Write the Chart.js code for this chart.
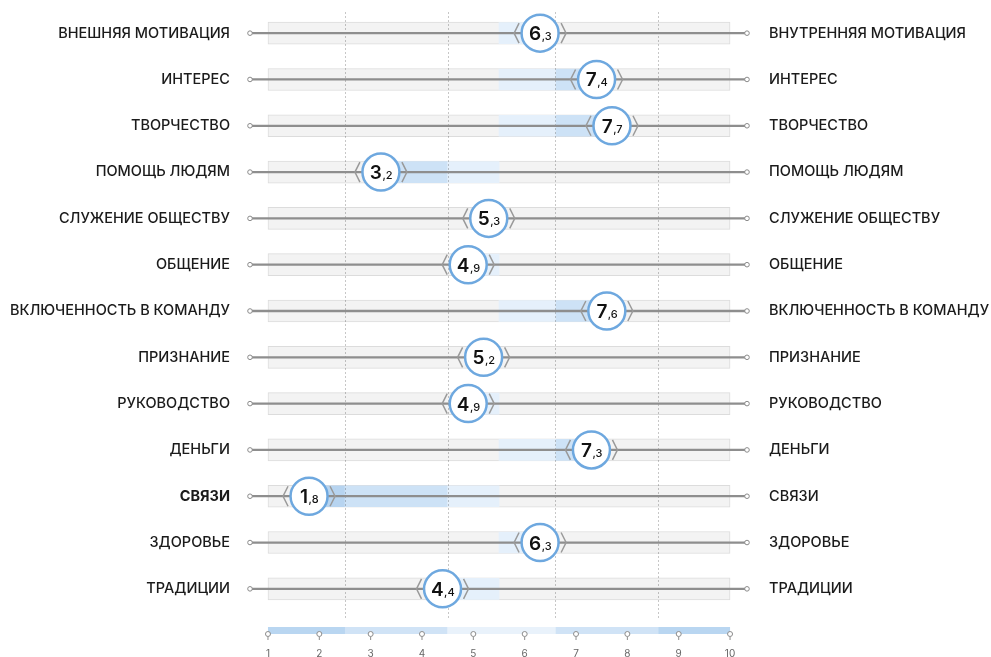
<!DOCTYPE html>
<html lang="ru">
<head>
<meta charset="utf-8">
<title>Мотивация</title>
<script src="https://cdn.jsdelivr.net/npm/chart.js@4.4.1/dist/chart.umd.min.js"></script>
<style>
  html, body { margin: 0; padding: 0; background: #fff; }
  #wrap { width: 991px; height: 657px; position: relative; }
</style>
</head>
<body>
<div id="wrap"><canvas id="motivC"></canvas></div>
<script>
const leftLabels = ['ВНЕШНЯЯ МОТИВАЦИЯ', 'ИНТЕРЕС', 'ТВОРЧЕСТВО', 'ПОМОЩЬ ЛЮДЯМ', 'СЛУЖЕНИЕ ОБЩЕСТВУ', 'ОБЩЕНИЕ',
    'ВКЛЮЧЕННОСТЬ В КОМАНДУ', 'ПРИЗНАНИЕ', 'РУКОВОДСТВО', 'ДЕНЬГИ', 'СВЯЗИ', 'ЗДОРОВЬЕ', 'ТРАДИЦИИ'];
const rightLabels = ['ВНУТРЕННЯЯ МОТИВАЦИЯ', 'ИНТЕРЕС', 'ТВОРЧЕСТВО', 'ПОМОЩЬ ЛЮДЯМ', 'СЛУЖЕНИЕ ОБЩЕСТВУ', 'ОБЩЕНИЕ',
    'ВКЛЮЧЕННОСТЬ В КОМАНДУ', 'ПРИЗНАНИЕ', 'РУКОВОДСТВО', 'ДЕНЬГИ', 'СВЯЗИ', 'ЗДОРОВЬЕ', 'ТРАДИЦИИ'];
const scores = [6.3, 7.4, 7.7, 3.2, 5.3, 4.9, 7.6, 5.2, 4.9, 7.3, 1.8, 6.3, 4.4];
const scaleTicks = [1, 2, 3, 4, 5, 6, 7, 8, 9, 10];
const midPoint = 5.5;
const zoneEdges = [2.5, 4.5, 6.6, 8.6];
const boldRow = 'СВЯЗИ';

const FONT = 'Inter, "Noto Sans", sans-serif';
const xMin = 0.65, xMax = 10.33;
const lo = scaleTicks[0], hi = scaleTicks[scaleTicks.length - 1];

// part of the [midPoint..value] stretch that falls inside one zone
function part(v, a, b) {
    const s = Math.max(Math.min(v, midPoint), a);
    const e = Math.min(Math.max(v, midPoint), b);
    return e > s ? [s, e] : null;
}
const lightFill = scores.map(v => part(v, zoneEdges[1], zoneEdges[2]));
const midFill = scores.map(v => part(v, zoneEdges[0], zoneEdges[1]) || part(v, zoneEdges[2], zoneEdges[3]));
const darkFill = scores.map(v => part(v, lo, zoneEdges[0]) || part(v, zoneEdges[3], hi));

const dashPlugin = {
    id: 'zoneDashes',
    afterDatasetDraw(chart, args) {
        if (chart.data.datasets[args.index].label !== 'light') return;
        const ctx = chart.ctx, x = chart.scales.x, area = chart.chartArea;
        ctx.save();
        ctx.strokeStyle = 'rgba(0,0,0,0.22)';
        ctx.lineWidth = 1;
        ctx.setLineDash([2, 2]);
        zoneEdges.forEach(v => {
            const px = Math.round(x.getPixelForValue(v)) + 0.5;
            ctx.beginPath();
            ctx.moveTo(px, area.top + 2);
            ctx.lineTo(px, area.bottom + 6);
            ctx.stroke();
        });
        ctx.restore();
    }
};

const markerPlugin = {
    id: 'markerText',
    afterDatasetsDraw(chart) {
        const ctx = chart.ctx;
        const meta = chart.getDatasetMeta(0);
        meta.data.forEach((pt, i) => {
            const x = pt.x, y = pt.y;
            ctx.save();
            ctx.strokeStyle = '#9a9a9a';
            ctx.lineWidth = 1.5;
            ctx.beginPath();
            ctx.moveTo(x - 21, y - 10); ctx.lineTo(x - 26, y); ctx.lineTo(x - 21, y + 10);
            ctx.moveTo(x + 21, y - 10); ctx.lineTo(x + 26, y); ctx.lineTo(x + 21, y + 10);
            ctx.stroke();

            const bits = scores[i].toFixed(1).split('.');
            const big = bits[0], small = ',' + bits[1];
            ctx.fillStyle = '#111';
            ctx.textBaseline = 'alphabetic';
            ctx.font = '600 19px ' + FONT;
            const wb = ctx.measureText(big).width;
            ctx.font = '500 11px ' + FONT;
            const ws = ctx.measureText(small).width;
            const start = x - (wb + ws) / 2;
            ctx.font = '600 19px ' + FONT;
            ctx.fillText(big, start, y + 7);
            ctx.font = '500 11px ' + FONT;
            ctx.fillText(small, start + wb + 0.5, y + 7);
            ctx.restore();
        });
    }
};

const axisPlugin = {
    id: 'bottomAxis',
    afterDraw(chart) {
        const ctx = chart.ctx, x = chart.scales.x;
        const edges = [lo].concat(zoneEdges, [hi]);
        const colors = ['#b9d6f1', '#d0e3f6', '#e9f2fb', '#d0e3f6', '#b9d6f1'];
        ctx.save();
        for (let i = 0; i < colors.length; i++) {
            const a = x.getPixelForValue(edges[i]), b = x.getPixelForValue(edges[i + 1]);
            ctx.fillStyle = colors[i];
            ctx.fillRect(a, 627, b - a, 7);
        }
        ctx.strokeStyle = '#8d8d8d';
        ctx.fillStyle = '#fff';
        ctx.lineWidth = 1;
        scaleTicks.forEach(v => {
            const px = x.getPixelForValue(v);
            ctx.beginPath();
            ctx.moveTo(px, 636.5); ctx.lineTo(px, 640);
            ctx.stroke();
            ctx.beginPath();
            ctx.arc(px, 634, 2.5, 0, Math.PI * 2);
            ctx.fill(); ctx.stroke();
        });
        ctx.restore();
    }
};

function noPad(s) {
    s.paddingTop = 0; s.paddingBottom = 0; s.paddingLeft = 0; s.paddingRight = 0;
}

document.addEventListener('DOMContentLoaded', function() {
    const ctx = document.getElementById('motivC').getContext('2d');
    const rows = scores.map((v, i) => i);
    new Chart(ctx, {
        type: 'bar',
        data: {
            labels: leftLabels,
            datasets: [
                {
                    type: 'scatter', label: 'marker', order: 1, indexAxis: 'x', clip: false,
                    data: scores.map((v, i) => ({ x: v, y: leftLabels[i] })),
                    pointRadius: 18.5, pointHoverRadius: 18.5,
                    pointBackgroundColor: '#fff', pointBorderColor: '#6ea8df', pointBorderWidth: 2.5,
                    pointHoverBorderWidth: 2.5
                },
                {
                    type: 'scatter', label: 'ends', order: 2, indexAxis: 'x', clip: false,
                    data: rows.flatMap(i => [{ x: xMin, y: leftLabels[i] }, { x: xMax, y: leftLabels[i] }]),
                    pointRadius: 2.3, pointBackgroundColor: '#fff', pointBorderColor: '#8a8a8a', pointBorderWidth: 1
                },
                {
                    label: 'line', order: 3, data: rows.map(() => [xMin, xMax]),
                    backgroundColor: '#8e8e8e', barThickness: 1.6
                },
                {
                    label: 'light', order: 4, data: lightFill,
                    backgroundColor: '#e5f0fb', barThickness: 21
                },
                {
                    label: 'mid', order: 5, data: midFill,
                    backgroundColor: '#cde2f6', barThickness: 21
                },
                {
                    label: 'dark', order: 6, data: darkFill,
                    backgroundColor: '#b7d4f0', barThickness: 21
                },
                {
                    label: 'track', order: 7, data: rows.map(() => [lo, hi]),
                    backgroundColor: '#f3f3f3', borderColor: '#dcdcdc', borderWidth: 1, borderSkipped: false,
                    barThickness: 22
                }
            ]
        },
        options: {
            indexAxis: 'y',
            responsive: true,
            maintainAspectRatio: false,
            animation: false,
            events: [],
            layout: { autoPadding: false, padding: { top: 10, left: 0, right: 0, bottom: 0 } },
            datasets: { bar: { grouped: false } },
            plugins: { legend: { display: false }, tooltip: { enabled: false } },
            scales: {
                x: {
                    type: 'linear', min: xMin, max: xMax,
                    afterBuildTicks: s => { s.ticks = scaleTicks.map(v => ({ value: v })); },
                    afterFit: s => { s.height = 45; noPad(s); },
                    grid: { display: false, drawTicks: false },
                    border: { display: false },
                    ticks: { padding: 36, color: '#666', font: { family: FONT, size: 10 } }
                },
                y: {
                    type: 'category', position: 'left', offset: true,
                    afterFit: s => { s.width = 250; noPad(s); },
                    grid: { display: false, drawTicks: false },
                    border: { display: false },
                    ticks: {
                        padding: 20, color: '#1b1b1b',
                        font: c => ({ family: FONT, size: 14.5, weight: leftLabels[c.index] === boldRow ? '700' : '500' })
                    }
                },
                y2: {
                    type: 'category', position: 'right', offset: true, labels: rightLabels,
                    afterFit: s => { s.width = 244; noPad(s); },
                    grid: { display: false, drawTicks: false },
                    border: { display: false },
                    ticks: { padding: 22, color: '#1b1b1b', font: { family: FONT, size: 14.5, weight: '500' } }
                }
            }
        },
        plugins: [dashPlugin, markerPlugin, axisPlugin]
    });
});
</script>
</body>
</html>
